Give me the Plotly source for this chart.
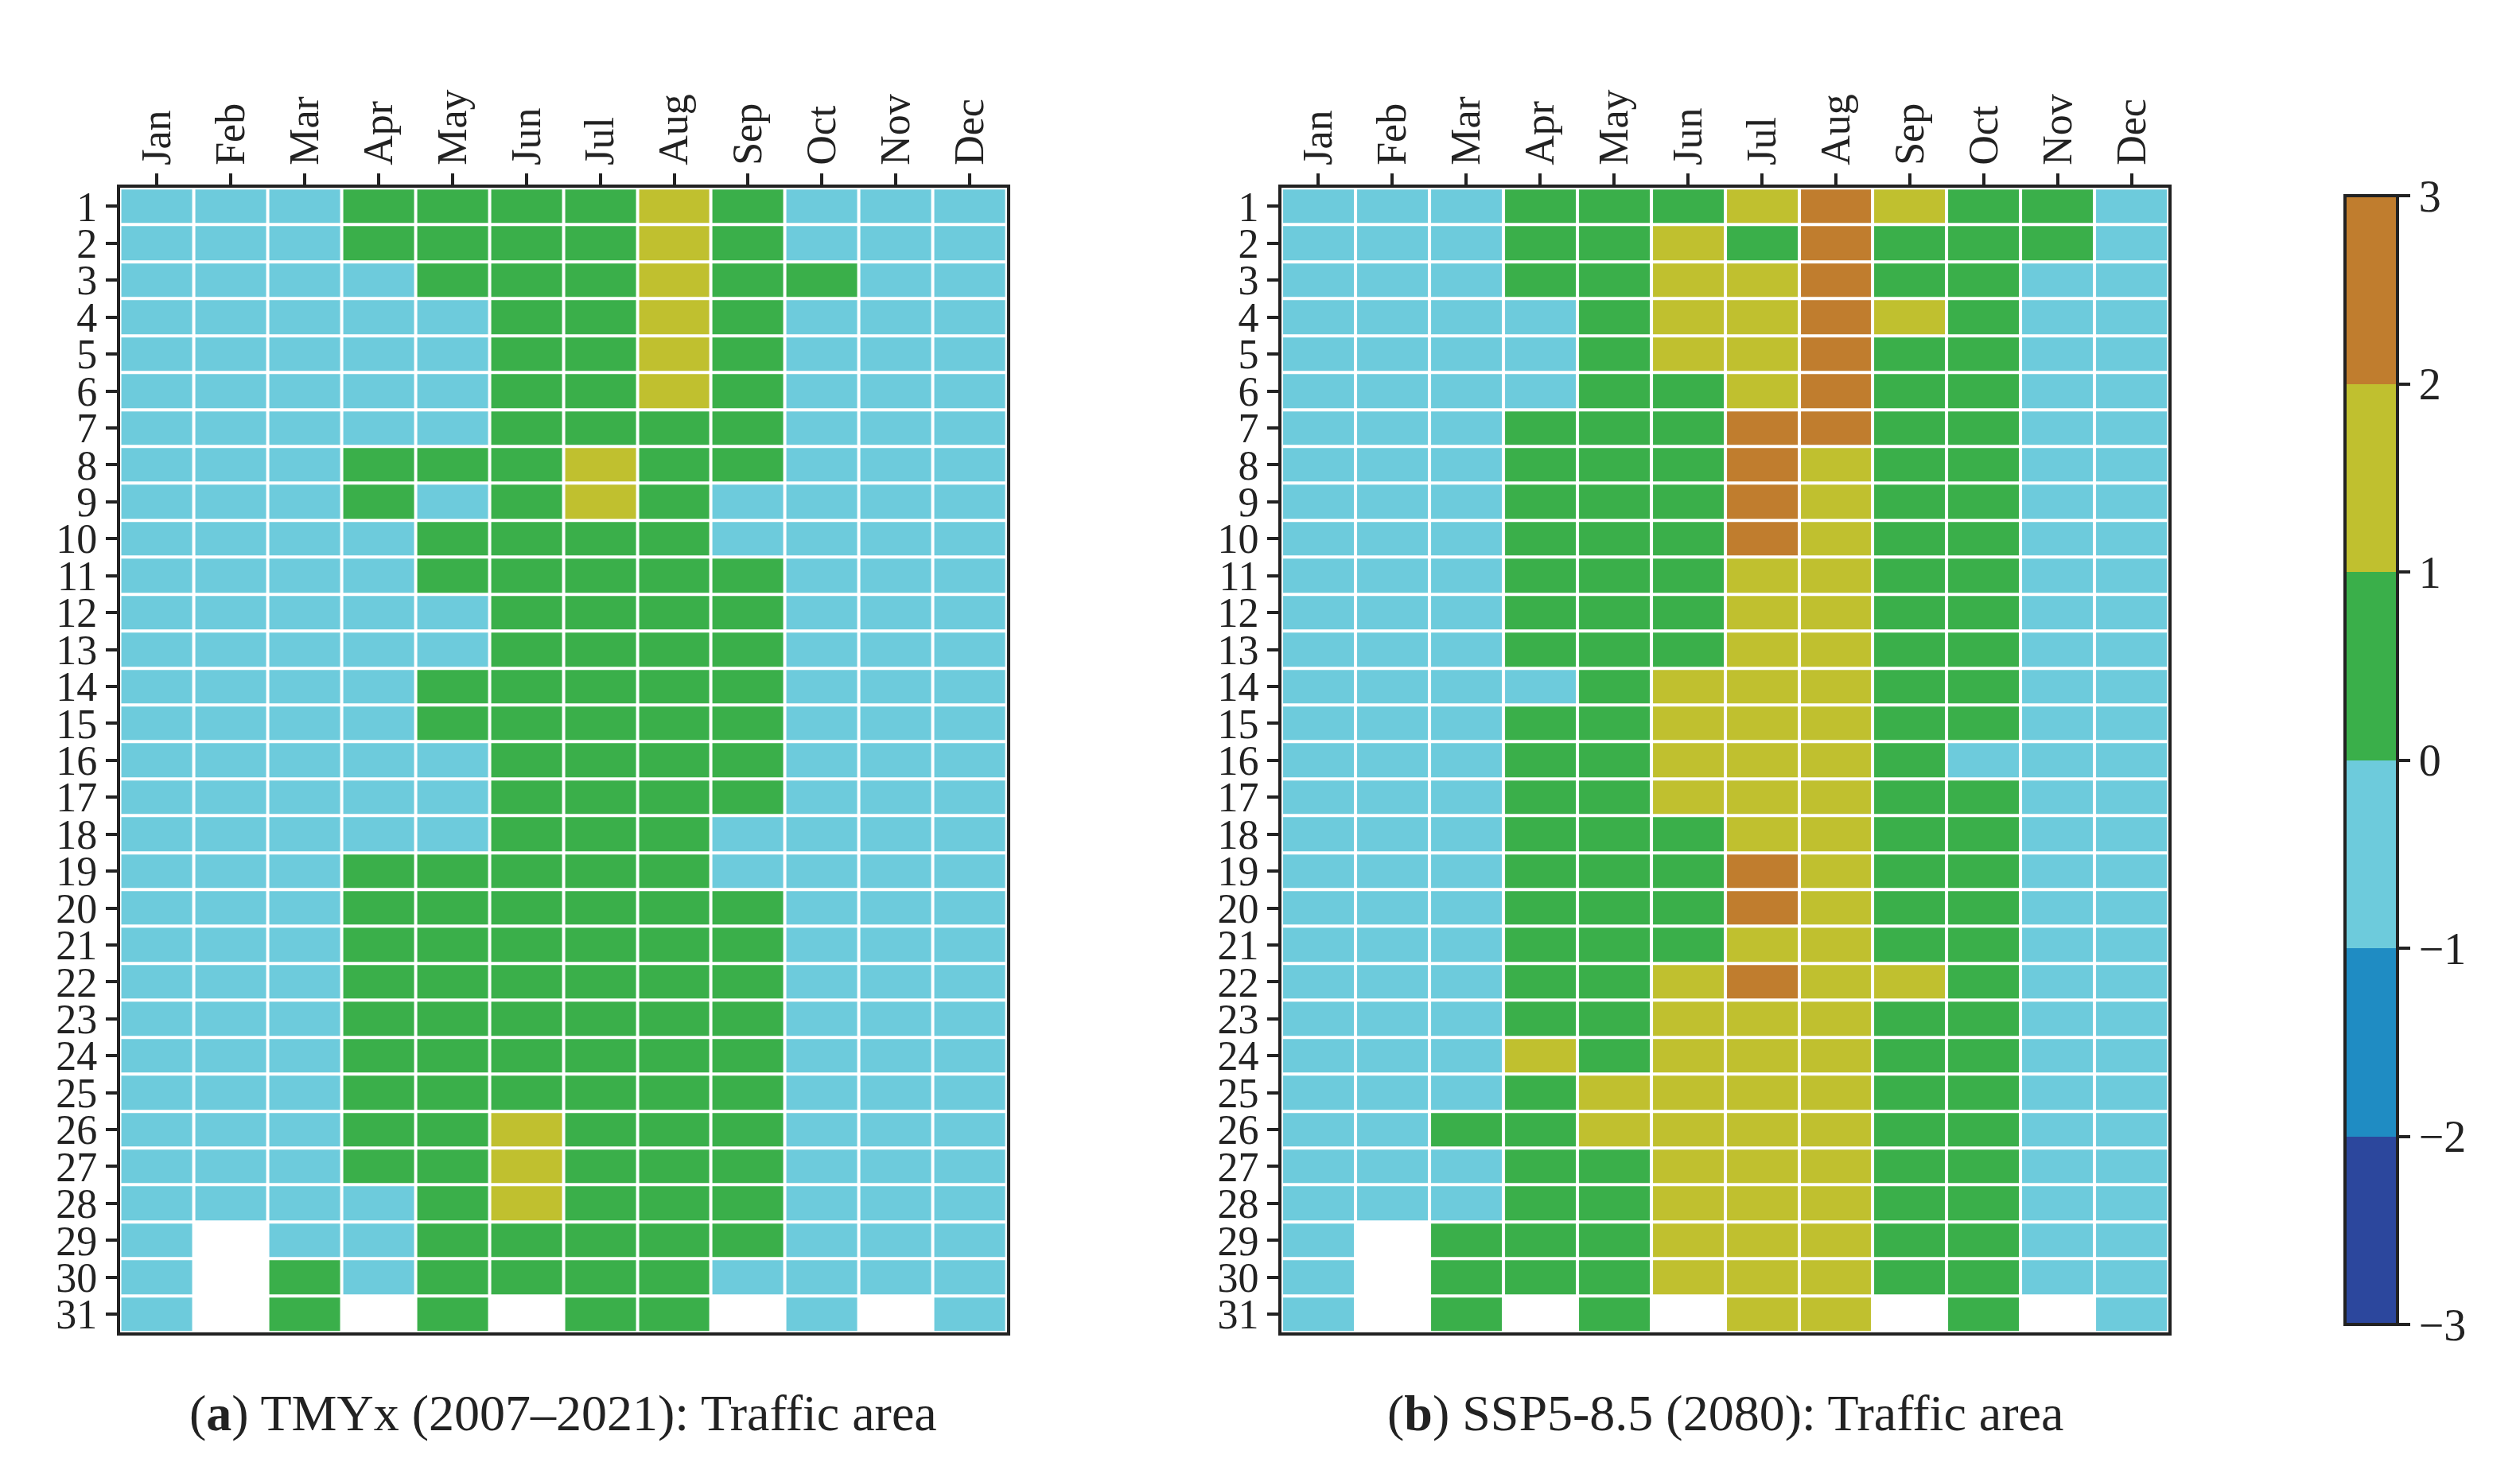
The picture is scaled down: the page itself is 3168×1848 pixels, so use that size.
import plotly.graph_objects as go

months = ["Jan","Feb","Mar","Apr","May","Jun","Jul","Aug","Sep","Oct","Nov","Dec"]
days = list(range(1, 32))

# codes per month (day 1..31): b=-1..0, g=0..1, y=1..2, o=2..3, .=no day
panel_a = [
    "b"*31,
    "b"*28 + "...",
    "b"*29 + "gg",
    "ggbbbbbggbbbbbbbbbgggggggggbbb.",
    "gggbbbbgbggbbggbbbggggggggggggg",
    "g"*25 + "yyy" + "gg.",
    "g"*7 + "yy" + "g"*22,
    "y"*6 + "g"*25,
    "g"*8 + "bb" + "g"*7 + "bb" + "g"*10 + "b.",
    "bbg" + "b"*28,
    "b"*30 + ".",
    "b"*31,
]
panel_b = [
    "b"*31,
    "b"*28 + "...",
    "b"*25 + "gbbggg",
    "gggbbb" + "g"*7 + "b" + "g"*9 + "y" + "g"*6 + ".",
    "g"*24 + "yy" + "g"*5,
    "gyyyy" + "g"*8 + "yyyy" + "gggg" + "y"*9 + ".",
    "ygyyyyoooo" + "y"*8 + "ooyo" + "y"*9,
    "o"*7 + "y"*24,
    "yggy" + "g"*17 + "y" + "g"*8 + ".",
    "g"*15 + "b" + "g"*15,
    "gg" + "b"*28 + ".",
    "b"*31,
]
code_val = {"b": -0.5, "g": 0.5, "y": 1.5, "o": 2.5, ".": None}
cbar_ticks = [-3, -2, -1, 0, 1, 2, 3]
cbar_text = ["\u22123", "\u22122", "\u22121", "0", "1", "2", "3"]
bin_colors = ["#2c479d", "#1f8cc3", "#6dcbdc", "#3aaf4a", "#c0c02f", "#c07d2e"]

def zmat(panel):
    return [[code_val[panel[m][d]] for m in range(12)] for d in range(31)]

cs = []
for i, c in enumerate(bin_colors):
    cs.append([i/6, c]); cs.append([(i+1)/6, c])

FONT = "Liberation Serif"
fig = go.Figure()
for k, panel in enumerate([panel_a, panel_b]):
    fig.add_trace(go.Heatmap(
        z=zmat(panel), x=months, y=days, xaxis="x" if k == 0 else "x2",
        yaxis="y" if k == 0 else "y2", zmin=-3, zmax=3, colorscale=cs,
        xgap=4, ygap=4, showscale=(k == 0), hoverongaps=False,
        colorbar=dict(x=0.925, xanchor="left", y=0.4865, len=0.783, lenmode="fraction",
                      thickness=66, outlinewidth=4, outlinecolor="#222",
                      tickvals=cbar_ticks, ticktext=cbar_text, ticks="outside",
                      ticklen=14, tickwidth=4, tickcolor="#222",
                      tickfont=dict(size=56, family=FONT, color="#222")),
    ))

ax_common = dict(showline=True, linewidth=4, linecolor="#222", mirror=True,
                 ticks="outside", tickwidth=4, tickcolor="#222", ticklen=14,
                 tickfont=dict(family=FONT, size=52, color="#222"))
fig.update_layout(
    width=3168, height=1848, plot_bgcolor="white", paper_bgcolor="white",
    margin=dict(l=0, r=0, t=0, b=0),
    xaxis=dict(domain=[0.045, 0.397], side="top", tickangle=-90, anchor="y", **ax_common),
    xaxis2=dict(domain=[0.506, 0.858], side="top", tickangle=-90, anchor="y2", **ax_common),
    yaxis=dict(domain=[0.095, 0.878], autorange="reversed", dtick=1, anchor="x", **ax_common),
    yaxis2=dict(domain=[0.095, 0.878], autorange="reversed", dtick=1, anchor="x2", **ax_common),
    annotations=[
        dict(text="(<b>a</b>) TMYx (2007\u20132021): Traffic area", x=0.221, y=0.04,
             xref="paper", yref="paper", xanchor="center", yanchor="middle", showarrow=False,
             font=dict(family=FONT, size=64, color="#222")),
        dict(text="(<b>b</b>) SSP5-8.5 (2080): Traffic area", x=0.682, y=0.04,
             xref="paper", yref="paper", xanchor="center", yanchor="middle", showarrow=False,
             font=dict(family=FONT, size=64, color="#222")),
    ],
)
fig.write_html("out.html")
